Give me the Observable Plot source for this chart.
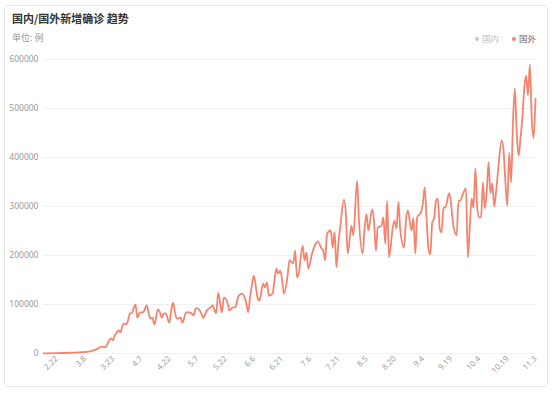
<!DOCTYPE html>
<html>
<head>
<meta charset="utf-8">
<script src="https://cdn.jsdelivr.net/npm/d3@7"></script>
<script src="https://cdn.jsdelivr.net/npm/@observablehq/plot@0.6"></script>
<style>
  html, body { margin: 0; padding: 0; background: #fff; }
  #wrap { position: relative; width: 554px; height: 395px; overflow: hidden;
          font-family: "Noto Sans", "Noto Sans CJK SC", sans-serif; }
  #card { position: absolute; left: 4px; top: 5px; width: 544px; height: 382px;
          border: 1px solid #e6e6e6; border-radius: 3px; box-sizing: border-box; }
  #title { position: absolute; left: 12px; top: 11px; font-size: 11px; font-weight: bold;
           color: #333; font-family: "Noto Sans CJK SC", sans-serif; line-height: 14px; }
  #sub { position: absolute; left: 12px; top: 32px; font-size: 9px; color: #999;
         font-family: "Noto Sans CJK SC", sans-serif; line-height: 12px; }
  .leg { position: absolute; top: 32px; font-size: 8.5px; line-height: 12px;
         font-family: "Noto Sans CJK SC", sans-serif; }
  .dot { display: inline-block; width: 4px; height: 4px; border-radius: 50%;
         margin-right: 3px; vertical-align: middle; position: relative; top: -1px; }
  #chart { position: absolute; left: 0; top: 0; }
</style>
</head>
<body>
<div id="wrap">
  <div id="card"></div>
  <div id="title">国内/国外新增确诊 趋势</div>
  <div id="sub">单位: 例</div>
  <div class="leg" style="left:475px;color:#bbb"><span class="dot" style="background:#c8c8c8"></span>国内</div>
  <div class="leg" style="left:512px;color:#666"><span class="dot" style="background:#f5836e"></span>国外</div>
  <div id="chart"></div>
</div>
<script>
const seriesNames = ["国内", "国外"];

const dates = [
  "2.15","2.22","2.29","3.5","3.11","3.15","3.17","3.19","3.21","3.22","3.23","3.24","3.25","3.26","3.27","3.28","3.29","3.30","3.31",
  "4.1","4.2","4.3","4.4","4.5","4.6","4.7","4.8","4.10","4.11","4.12","4.13","4.14","4.16","4.17","4.18","4.19","4.20","4.22","4.23","4.24","4.25","4.26","4.28","4.29",
  "5.1","5.3","5.5","5.6","5.7","5.9","5.10","5.12","5.14","5.15","5.17","5.18","5.20","5.21","5.23","5.24","5.26","5.27","5.29","5.31",
  "6.2","6.3","6.4","6.5","6.6","6.8","6.9","6.11","6.12","6.13","6.14","6.16","6.17","6.18","6.19","6.20","6.21","6.22","6.24","6.25","6.27","6.28","6.29","6.30",
  "7.2","7.3","7.4","7.5","7.7","7.9","7.10","7.12","7.13","7.14","7.15","7.17","7.18","7.19","7.20","7.21","7.22","7.24","7.25","7.26","7.28","7.29","7.31",
  "8.1","8.3","8.4","8.5","8.6","8.8","8.9","8.10","8.11","8.13","8.14","8.15","8.16","8.17","8.19","8.20","8.21","8.22","8.23","8.25","8.26","8.27","8.29","8.30","8.31",
  "9.1","9.3","9.4","9.5","9.6","9.7","9.8","9.9","9.10","9.11","9.12","9.13","9.14","9.15","9.16","9.18","9.19","9.20","9.22","9.23","9.24","9.25","9.27","9.28","9.29","9.30",
  "10.1","10.2","10.3","10.4","10.5","10.6","10.7","10.8","10.9","10.10","10.11","10.12","10.13","10.14","10.16","10.17","10.18","10.19","10.20","10.21","10.22","10.23","10.24","10.25","10.26","10.27","10.28","10.29","10.30","10.31",
  "11.1","11.2","11.3"
];

const foreignCases = [
  300,600,1500,2500,4500,10000,14000,13000,27000,31000,27000,37000,43000,47000,43000,57000,61000,59000,67000,
  82000,82000,92000,100000,73000,82000,84000,84000,98000,82000,71000,73000,59000,90000,84000,73000,82000,82000,63000,88000,104000,84000,71000,73000,63000,
  84000,84000,78000,92000,92000,82000,73000,88000,94000,98000,82000,124000,84000,114000,104000,88000,94000,94000,118000,122000,
  102000,84000,115000,140000,159000,114000,108000,143000,135000,145000,118000,122000,149000,173000,163000,169000,153000,122000,159000,190000,184000,210000,155000,165000,
  220000,190000,206000,173000,204000,224000,229000,215000,210000,190000,245000,251000,216000,247000,176000,224000,257000,314000,286000,204000,261000,241000,353000,
  271000,204000,257000,284000,251000,294000,271000,210000,257000,261000,278000,224000,312000,196000,257000,271000,255000,310000,251000,216000,271000,292000,251000,276000,204000,
  278000,288000,306000,339000,276000,214000,202000,267000,276000,312000,316000,255000,247000,298000,298000,327000,308000,267000,241000,312000,312000,322000,337000,196000,257000,316000,
  298000,378000,296000,278000,278000,349000,296000,329000,390000,327000,347000,300000,330000,370000,435000,414000,349000,302000,410000,349000,471000,541000,451000,404000,439000,480000,541000,567000,527000,590000,
  480000,440000,520000
];

const xTickLabels = ["2.22","3.8","3.23","4.7","4.22","5.7","5.22","6.6","6.21","7.6","7.21","8.5","8.20","9.4","9.19","10.4","10.19","11.3"];
const yTickValues = [0, 100000, 200000, 300000, 400000, 500000, 600000];

const toDate = s => { const [m, d] = s.split(".").map(Number); return new Date(Date.UTC(2020, m - 1, d)); };
const rows = dates.map((s, i) => ({date: toDate(s), value: foreignCases[i]}));
const xTicks = xTickLabels.map(toDate);
const labelOf = new Map(xTickLabels.map(s => [+toDate(s), s]));

const chart = Plot.plot({
  width: 554,
  height: 395,
  marginLeft: 43,
  marginRight: 19,
  marginTop: 59,
  marginBottom: 42,
  style: {fontFamily: "'Noto Sans', 'Noto Sans CJK SC', sans-serif", background: "transparent"},
  x: {type: "utc", domain: [toDate(dates[0]), toDate(dates[dates.length - 1])]},
  y: {domain: [0, 600000]},
  marks: [
    Plot.ruleY(yTickValues, {stroke: "#f0f0f0", strokeWidth: 1}),
    Plot.axisY({ticks: yTickValues, tickSize: 0, tickPadding: 5, fontSize: 8.5, fill: "#999",
                tickFormat: d => String(d), label: null}),
    Plot.axisX({ticks: xTicks, tickSize: 0, tickPadding: 4, tickRotate: -45, fontSize: 8, fill: "#a0a0a0",
                tickFormat: d => labelOf.get(+d), label: null}),
    Plot.line(rows, {x: "date", y: "value", stroke: "#f5836e", strokeWidth: 1.8, curve: "monotone-x"})
  ]
});
document.getElementById("chart").appendChild(chart);
</script>
</body>
</html>
